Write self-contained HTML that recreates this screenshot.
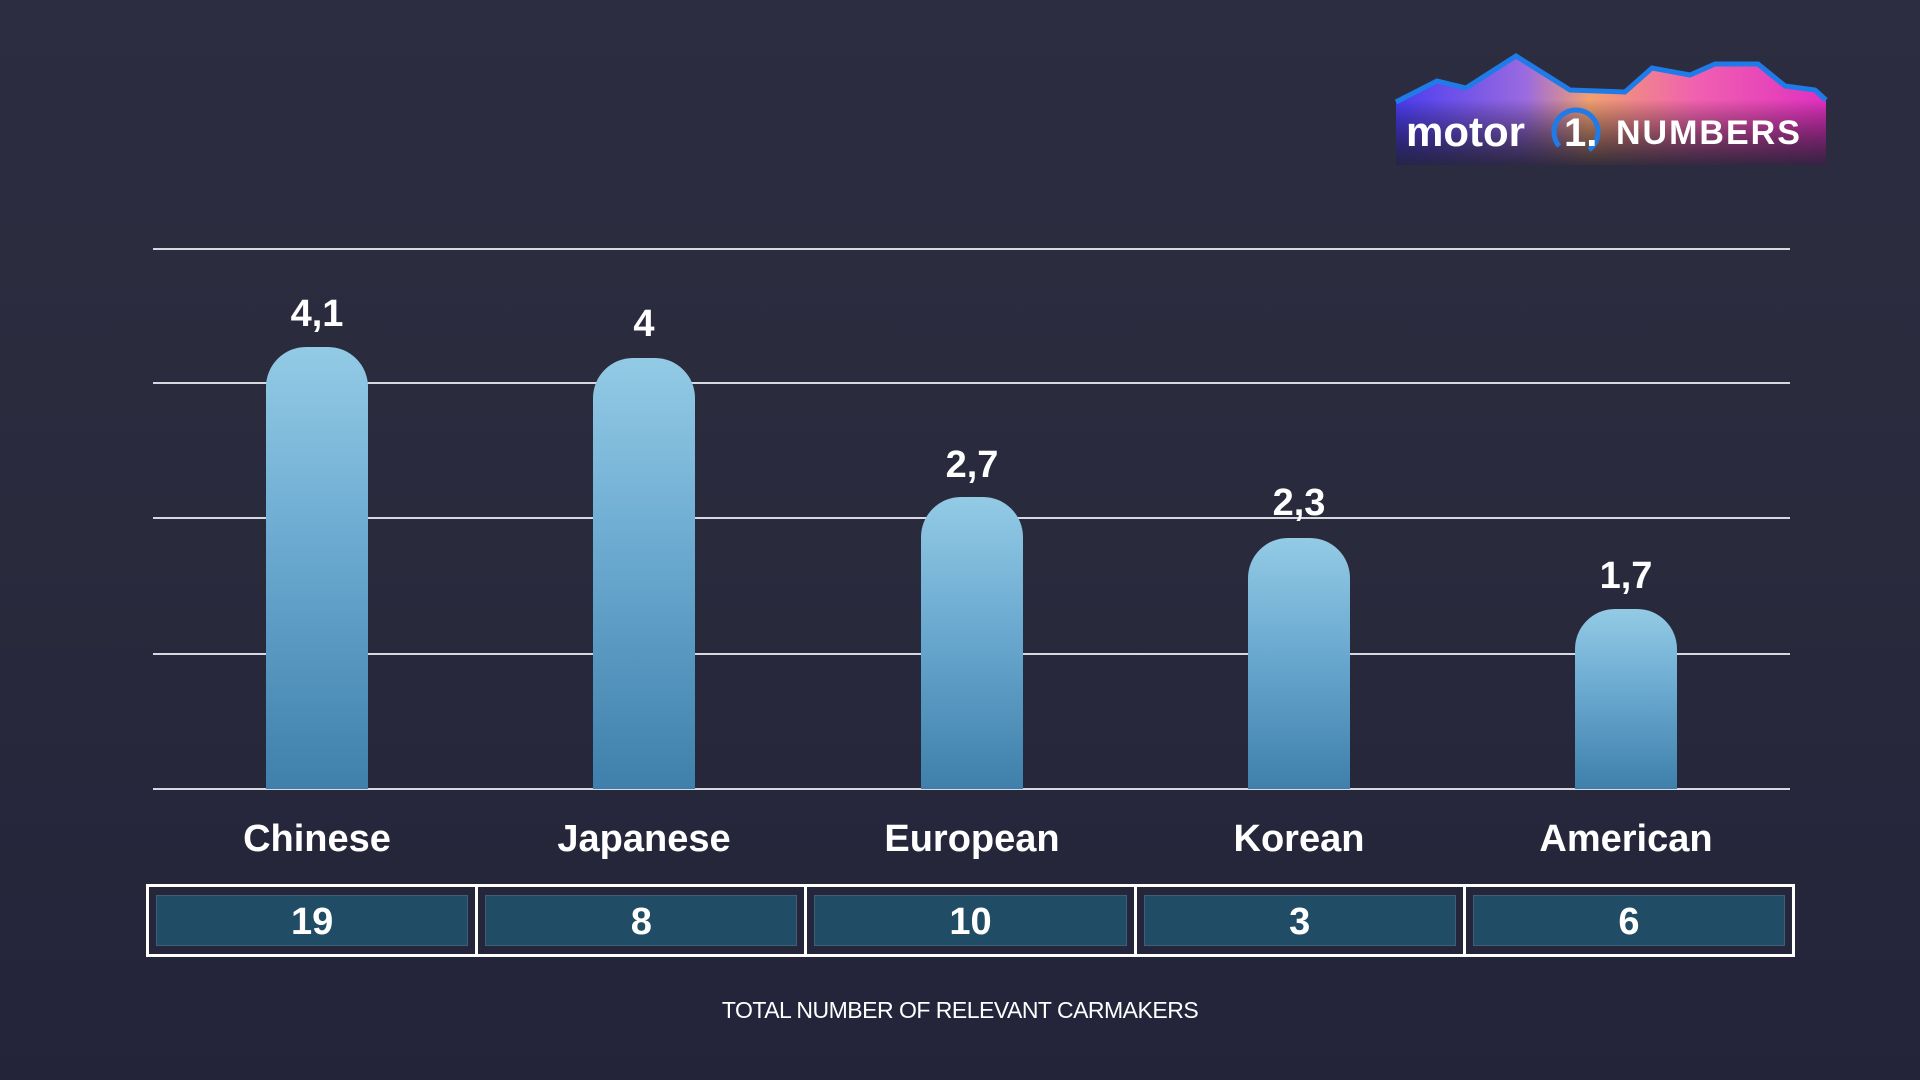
<!DOCTYPE html>
<html><head><meta charset="utf-8"><style>
*{margin:0;padding:0;box-sizing:border-box}
body{width:1920px;height:1080px;overflow:hidden;background:linear-gradient(180deg,#2d2d41 0%,#2a2a3d 50%,#23233a 100%);font-family:"Liberation Sans",sans-serif;position:relative}
.g{position:absolute;left:153px;width:1637px;height:2px;background:#d8d8e0}
.bar{position:absolute;width:102px;border-radius:40px 40px 0 0;background:linear-gradient(180deg,#93cbe5 0%,#6fadd3 40%,#3e80ab 100%)}
.v{position:absolute;width:200px;text-align:center;color:#fff;font-weight:bold;font-size:38px}
.c{position:absolute;width:330px;text-align:center;color:#fff;font-weight:bold;font-size:38px;top:818px}
.tbl{position:absolute;left:146px;top:884px;width:1649px;height:73px;border:3px solid #fff;display:flex}
.cell{flex:1;border-right:3px solid #fff;padding:8px 7px}
.cell:last-child{border-right:none}
.in{background:#214c66;height:100%;color:#fff;font-weight:bold;font-size:38px;text-align:center;line-height:52px;border:1px solid #3d5f78}
</style></head><body>
<div class="g" style="top:248px"></div>
<div class="g" style="top:382px"></div>
<div class="g" style="top:517px"></div>
<div class="g" style="top:653px"></div>
<div class="g" style="top:788px"></div>

<div class="bar" style="left:266px;top:347px;height:442px"></div>
<div class="bar" style="left:593px;top:358px;height:431px"></div>
<div class="bar" style="left:921px;top:497px;height:292px"></div>
<div class="bar" style="left:1248px;top:538px;height:251px"></div>
<div class="bar" style="left:1575px;top:609px;height:180px"></div>

<div class="v" style="left:217px;top:293px">4,1</div>
<div class="v" style="left:544px;top:303px">4</div>
<div class="v" style="left:872px;top:444px">2,7</div>
<div class="v" style="left:1199px;top:482px">2,3</div>
<div class="v" style="left:1526px;top:555px">1,7</div>

<div class="c" style="left:152px">Chinese</div>
<div class="c" style="left:479px">Japanese</div>
<div class="c" style="left:807px">European</div>
<div class="c" style="left:1134px">Korean</div>
<div class="c" style="left:1461px">American</div>

<div class="tbl">
<div class="cell"><div class="in">19</div></div>
<div class="cell"><div class="in">8</div></div>
<div class="cell"><div class="in">10</div></div>
<div class="cell"><div class="in">3</div></div>
<div class="cell"><div class="in">6</div></div>
</div>

<div style="position:absolute;left:0;width:1920px;top:997px;text-align:center;color:#fff;font-size:23px;letter-spacing:-0.5px">TOTAL NUMBER OF RELEVANT CARMAKERS</div>

<svg style="position:absolute;left:1380px;top:40px" width="460" height="140" viewBox="0 0 460 140">
<defs><linearGradient id="lg" x1="0" x2="1" y1="0" y2="0">
<stop offset="0" stop-color="#4a3cf0"/><stop offset="0.3" stop-color="#9a6ae0"/><stop offset="0.45" stop-color="#f0a070"/><stop offset="0.7" stop-color="#f060b0"/><stop offset="1" stop-color="#e030c0"/></linearGradient>
<linearGradient id="fd" x1="0" x2="0" y1="0" y2="1"><stop offset="0.4" stop-color="#000" stop-opacity="0"/><stop offset="1" stop-color="#222236" stop-opacity="0.9"/></linearGradient></defs>
<path d="M16,62 L57,41 L86,48 L136,16 L190,50 L245,52 L272,28 L310,35 L335,24 L378,24 L405,46 L435,50 L446,60 L446,125 L16,125Z" fill="url(#lg)"/>
<path d="M16,62 L57,41 L86,48 L136,16 L190,50 L245,52 L272,28 L310,35 L335,24 L378,24 L405,46 L435,50 L446,60 L446,125 L16,125Z" fill="url(#fd)"/>
<path d="M16,62 L57,41 L86,48 L136,16 L190,50 L245,52 L272,28 L310,35 L335,24 L378,24 L405,46 L435,50 L446,60" fill="none" stroke="#1e7be8" stroke-width="5"/>
<circle cx="196" cy="92" r="22" fill="none" stroke="#1e7be8" stroke-width="5" stroke-dasharray="105 35" transform="rotate(140 196 92)"/>
<text x="26" y="106" fill="#fff" font-family="Liberation Sans" font-weight="bold" font-size="42">motor</text>
<text x="184" y="106" fill="#fff" font-family="Liberation Sans" font-weight="bold" font-size="40">1.</text>
<text x="236" y="104" fill="#fff" font-family="Liberation Sans" font-weight="bold" font-size="34" letter-spacing="2">NUMBERS</text>
</svg>
</body></html>
